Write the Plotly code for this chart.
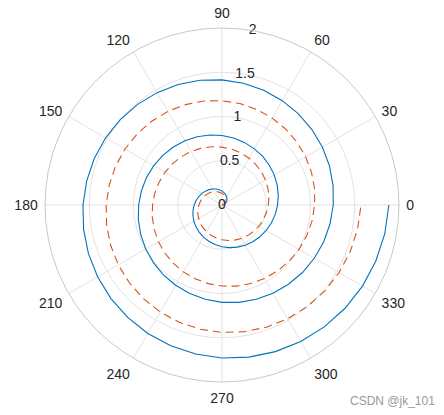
import plotly.graph_objects as go

# angle in degrees (three full turns, counter-clockwise)
theta_deg = [0, 10, 20, 30, 40, 50, 60, 70, 80, 90, 100, 110, 120, 130, 140, 150, 160, 170, 180,
             190, 200, 210, 220, 230, 240, 250, 260, 270, 280, 290, 300, 310, 320, 330, 340, 350, 360,
             370, 380, 390, 400, 410, 420, 430, 440, 450, 460, 470, 480, 490, 500, 510, 520, 530, 540,
             550, 560, 570, 580, 590, 600, 610, 620, 630, 640, 650, 660, 670, 680, 690, 700, 710, 720,
             730, 740, 750, 760, 770, 780, 790, 800, 810, 820, 830, 840, 850, 860, 870, 880, 890, 900,
             910, 920, 930, 940, 950, 960, 970, 980, 990, 1000, 1010, 1020, 1030, 1040, 1050, 1060,
             1070, 1080]

r_blue = [0, 0.017, 0.035, 0.052, 0.070, 0.087, 0.105, 0.122, 0.140, 0.157, 0.175, 0.192, 0.209,
          0.227, 0.244, 0.262, 0.279, 0.297, 0.314, 0.332, 0.349, 0.367, 0.384, 0.401, 0.419, 0.436,
          0.454, 0.471, 0.489, 0.506, 0.524, 0.541, 0.559, 0.576, 0.593, 0.611, 0.628, 0.646, 0.663,
          0.681, 0.698, 0.716, 0.733, 0.750, 0.768, 0.785, 0.803, 0.820, 0.838, 0.855, 0.873, 0.890,
          0.908, 0.925, 0.942, 0.960, 0.977, 0.995, 1.012, 1.030, 1.047, 1.065, 1.082, 1.100, 1.117,
          1.134, 1.152, 1.169, 1.187, 1.204, 1.222, 1.239, 1.257, 1.274, 1.292, 1.309, 1.326, 1.344,
          1.361, 1.379, 1.396, 1.414, 1.431, 1.449, 1.466, 1.484, 1.501, 1.518, 1.536, 1.553, 1.571,
          1.588, 1.606, 1.623, 1.641, 1.658, 1.676, 1.693, 1.710, 1.728, 1.745, 1.763, 1.780, 1.798,
          1.815, 1.833, 1.850, 1.868, 1.885]

r_orange = [0, 0.015, 0.029, 0.044, 0.058, 0.073, 0.087, 0.102, 0.116, 0.131, 0.145, 0.160, 0.175,
            0.189, 0.204, 0.218, 0.233, 0.247, 0.262, 0.276, 0.291, 0.305, 0.320, 0.335, 0.349, 0.364,
            0.378, 0.393, 0.407, 0.422, 0.436, 0.451, 0.465, 0.480, 0.495, 0.509, 0.524, 0.538, 0.553,
            0.567, 0.582, 0.596, 0.611, 0.625, 0.640, 0.654, 0.669, 0.684, 0.698, 0.713, 0.727, 0.742,
            0.756, 0.771, 0.785, 0.800, 0.814, 0.829, 0.844, 0.858, 0.873, 0.887, 0.902, 0.916, 0.931,
            0.945, 0.960, 0.974, 0.989, 1.004, 1.018, 1.033, 1.047, 1.062, 1.076, 1.091, 1.105, 1.120,
            1.134, 1.149, 1.164, 1.178, 1.193, 1.207, 1.222, 1.236, 1.251, 1.265, 1.280, 1.294, 1.309,
            1.324, 1.338, 1.353, 1.367, 1.382, 1.396, 1.411, 1.425, 1.440, 1.454, 1.469, 1.484, 1.498,
            1.513, 1.527, 1.542, 1.556, 1.571]

angle_ticks = [0, 30, 60, 90, 120, 150, 180, 210, 240, 270, 300, 330]
angle_labels = ["0", "30", "60", "90", "120", "150", "180", "210", "240", "270", "300", "330"]
radial_ticks = [0, 0.5, 1, 1.5, 2]
radial_labels = ["0", "0.5", "1", "1.5", "2"]
radial_label_angle = [80, 80, 80, 80, 80]

FONT = "Liberation Sans, Arial, sans-serif"
TXT = "#262626"

fig = go.Figure()
fig.add_trace(go.Scatterpolar(r=r_blue, theta=theta_deg, mode="lines",
                              line=dict(color="#0072BD", width=1.1), showlegend=False,
                              hoverinfo="skip"))
fig.add_trace(go.Scatterpolar(r=r_orange, theta=theta_deg, mode="lines",
                              line=dict(color="#D95319", width=1.1, dash="8px,5px"),
                              showlegend=False, hoverinfo="skip"))
fig.add_trace(go.Scatterpolar(r=radial_ticks, theta=radial_label_angle, mode="text",
                              text=radial_labels, textposition="middle center",
                              textfont=dict(family=FONT, size=14, color=TXT),
                              showlegend=False, hoverinfo="skip"))

fig.update_layout(
    width=444, height=415, autosize=False,
    margin=dict(l=45, r=45, t=28, b=33),
    paper_bgcolor="white",
    font=dict(family=FONT, size=14, color=TXT),
    polar=dict(
        bgcolor="white",
        domain=dict(x=[0, 1], y=[0, 1]),
        angularaxis=dict(
            rotation=0, direction="counterclockwise",
            tickmode="array", tickvals=angle_ticks, ticktext=angle_labels,
            showgrid=True, gridcolor="#e3e3e3", gridwidth=1,
            showline=True, linecolor="#c8c8c8", linewidth=1,
            ticks="outside", ticklen=4, tickcolor="rgba(0,0,0,0)",
            tickfont=dict(family=FONT, size=14, color=TXT),
        ),
        radialaxis=dict(
            range=[0, 2], tickmode="array", tickvals=[0.5, 1, 1.5, 2],
            showticklabels=False, ticks="", showline=False,
            showgrid=True, gridcolor="#e3e3e3", gridwidth=1,
        ),
    ),
    annotations=[dict(text="CSDN @jk_101", x=1, y=0, xref="paper", yref="paper",
                      xanchor="right", yanchor="top", yshift=-10, xshift=38, showarrow=False,
                      font=dict(family=FONT, size=12, color="#9a9a9a"))],
)

# remove the default 8px page margin so the figure sits at the window's top-left corner
fig.write_html("out.html",
               config={"displayModeBar": False, "staticPlot": True},
               post_script="document.body.style.margin='0';document.body.style.overflow='hidden';")
